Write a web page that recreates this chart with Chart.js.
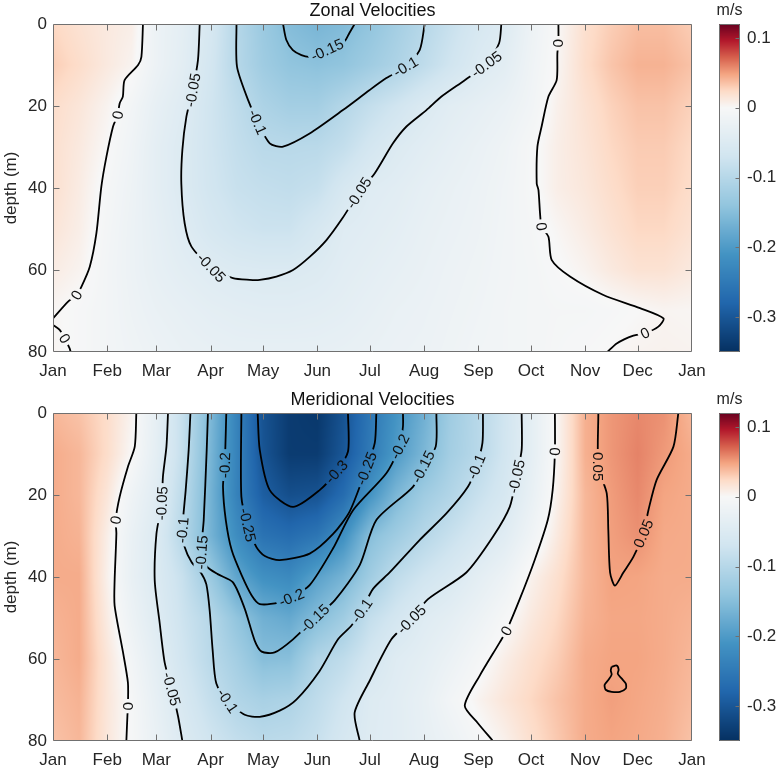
<!DOCTYPE html>
<html>
<head>
<meta charset="utf-8">
<script src="https://cdn.jsdelivr.net/npm/chart.js@4.4.1/dist/chart.umd.min.js"></script>
<style>
  body { margin: 0; background: #fff; width: 777px; height: 772px; overflow: hidden; position: relative; }
  .box { position: absolute; }
</style>
</head>
<body>
<div class="box" style="left:0;top:0"><canvas id="zonal" width="712" height="386"></canvas></div>
<div class="box" style="left:705px;top:0"><canvas id="zonalBar" width="72" height="386"></canvas></div>
<div class="box" style="left:0;top:389px"><canvas id="merid" width="712" height="386"></canvas></div>
<div class="box" style="left:705px;top:389px"><canvas id="meridBar" width="72" height="386"></canvas></div>

<script>
// ---- axes / ticks ----
const monthStarts = [0, 31, 59, 90, 120, 151, 181, 212, 243, 273, 304, 334, 365];
const monthNames = ['Jan', 'Feb', 'Mar', 'Apr', 'May', 'Jun', 'Jul', 'Aug', 'Sep', 'Oct', 'Nov', 'Dec', 'Jan'];
const depthTicks = [0, 20, 40, 60, 80];
const colorTicks = [0.1, 0, -0.1, -0.2, -0.3];
const colorMin = -0.35, colorMax = 0.12;

// ---- gridded fields (m/s), one row per grid day, values at gridDepths ----
const gridDays = [0, 15, 31, 45, 59, 74, 90, 105, 120, 135, 151, 166, 181, 196, 212, 227, 243, 258, 273, 288, 304, 319, 334, 349, 365];
const gridDepths = [0, 10, 20, 30, 40, 50, 60, 70, 80];

const zonalField = [
  [0.025, 0.03, 0.022, 0.02, 0.02, 0.016, 0.01, 0.002, 0.003],
  [0.018, 0.022, 0.015, 0.012, 0.01, 0.008, 0.004, -0.003, -0.003],
  [0.012, 0.012, 0.004, 0.0, -0.005, -0.008, -0.01, -0.01, -0.01],
  [0.008, 0.004, -0.01, -0.015, -0.018, -0.02, -0.02, -0.018, -0.015],
  [-0.02, -0.02, -0.03, -0.035, -0.035, -0.032, -0.03, -0.025, -0.02],
  [-0.035, -0.038, -0.045, -0.05, -0.05, -0.045, -0.038, -0.03, -0.025],
  [-0.06, -0.065, -0.07, -0.07, -0.068, -0.06, -0.045, -0.035, -0.028],
  [-0.1, -0.1, -0.09, -0.085, -0.08, -0.07, -0.05, -0.038, -0.03],
  [-0.13, -0.125, -0.11, -0.096, -0.085, -0.075, -0.052, -0.04, -0.03],
  [-0.152, -0.14, -0.12, -0.097, -0.088, -0.075, -0.052, -0.04, -0.03],
  [-0.162, -0.145, -0.12, -0.096, -0.082, -0.06, -0.048, -0.038, -0.03],
  [-0.155, -0.14, -0.102, -0.085, -0.06, -0.045, -0.04, -0.035, -0.028],
  [-0.14, -0.125, -0.085, -0.065, -0.045, -0.04, -0.035, -0.03, -0.025],
  [-0.12, -0.11, -0.07, -0.05, -0.04, -0.035, -0.03, -0.025, -0.022],
  [-0.1, -0.09, -0.052, -0.04, -0.032, -0.028, -0.025, -0.022, -0.02],
  [-0.08, -0.07, -0.04, -0.032, -0.026, -0.023, -0.02, -0.018, -0.016],
  [-0.06, -0.05, -0.032, -0.024, -0.02, -0.018, -0.016, -0.014, -0.012],
  [-0.048, -0.038, -0.024, -0.016, -0.013, -0.012, -0.011, -0.01, -0.01],
  [-0.02, -0.016, -0.012, -0.004, -0.004, -0.006, -0.008, -0.008, -0.008],
  [0.0, 0.002, 0.006, 0.008, 0.008, 0.002, -0.002, -0.006, -0.005],
  [0.02, 0.022, 0.018, 0.016, 0.014, 0.01, 0.004, -0.006, -0.002],
  [0.03, 0.034, 0.028, 0.025, 0.022, 0.018, 0.012, -0.003, 0.001],
  [0.037, 0.042, 0.035, 0.031, 0.029, 0.025, 0.018, 0.0, 0.004],
  [0.037, 0.042, 0.035, 0.031, 0.029, 0.025, 0.018, 0.003, 0.005],
  [0.03, 0.035, 0.028, 0.024, 0.022, 0.018, 0.012, 0.002, 0.004]
];

const meridField = [
  [0.04, 0.045, 0.045, 0.045, 0.045, 0.042, 0.04, 0.038, 0.035],
  [0.035, 0.04, 0.04, 0.042, 0.045, 0.045, 0.045, 0.042, 0.04],
  [0.022, 0.022, 0.015, 0.008, 0.006, 0.01, 0.015, 0.015, 0.014],
  [0.004, 0.0, -0.016, -0.025, -0.027, -0.02, -0.01, -0.004, -0.004],
  [-0.032, -0.035, -0.042, -0.05, -0.05, -0.045, -0.037, -0.03, -0.025],
  [-0.083, -0.083, -0.092, -0.1, -0.08, -0.074, -0.068, -0.058, -0.05],
  [-0.157, -0.162, -0.166, -0.165, -0.13, -0.1, -0.096, -0.084, -0.07],
  [-0.235, -0.235, -0.237, -0.22, -0.185, -0.14, -0.12, -0.105, -0.085],
  [-0.305, -0.303, -0.29, -0.26, -0.215, -0.17, -0.15, -0.115, -0.095],
  [-0.335, -0.335, -0.31, -0.27, -0.225, -0.18, -0.148, -0.11, -0.092],
  [-0.34, -0.335, -0.305, -0.255, -0.19, -0.152, -0.105, -0.09, -0.08],
  [-0.305, -0.3, -0.27, -0.215, -0.165, -0.125, -0.09, -0.07, -0.06],
  [-0.255, -0.25, -0.21, -0.15, -0.125, -0.085, -0.065, -0.048, -0.046],
  [-0.21, -0.2, -0.16, -0.125, -0.09, -0.065, -0.045, -0.04, -0.04],
  [-0.17, -0.16, -0.125, -0.1, -0.07, -0.045, -0.035, -0.028, -0.03],
  [-0.125, -0.12, -0.105, -0.08, -0.055, -0.035, -0.022, -0.01, -0.02],
  [-0.098, -0.098, -0.08, -0.06, -0.036, -0.02, -0.006, 0.004, -0.005],
  [-0.07, -0.068, -0.06, -0.042, -0.02, -0.004, 0.008, 0.015, 0.006],
  [-0.035, -0.035, -0.028, -0.015, 0.005, 0.012, 0.02, 0.025, 0.02],
  [0.002, 0.002, 0.006, 0.012, 0.02, 0.025, 0.03, 0.035, 0.032],
  [0.043, 0.043, 0.04, 0.04, 0.04, 0.042, 0.045, 0.045, 0.045],
  [0.053, 0.053, 0.051, 0.05, 0.049, 0.047, 0.048, 0.05, 0.048],
  [0.058, 0.06, 0.058, 0.055, 0.048, 0.047, 0.048, 0.047, 0.046],
  [0.055, 0.052, 0.048, 0.046, 0.045, 0.045, 0.045, 0.044, 0.043],
  [0.04, 0.045, 0.045, 0.045, 0.045, 0.042, 0.04, 0.038, 0.035]
];

// ---- contour lines, [day, depth] ----
const zonalZeroWest = [[51.4,0],[50.5,8.0],[48.6,10.0],[40.9,13.7],[39.9,17.7],[38.1,19.3],[36.9,22.2],[34.3,25.0],[30.5,32.4],[27.6,39.7],[24.8,51.0],[21.0,59.2],[16.2,64.1],[13.4,66.1],[8.6,67.7],[0,71.8]];
const zonalZeroCorner = [[0,73.4],[3.8,74.6],[6.7,76.7],[9.5,79.1],[10.1,80]];
const zonalM05 = [[83.8,0],[82.8,8.8],[79.8,16.1],[76.2,22.6],[73.9,30.7],[73.3,38.9],[75.2,48.6],[79.1,54.3],[90.5,59.4],[102.8,62.0],[112.4,62.4],[118.1,62.4],[127.6,61.6],[137.1,60.0],[146.6,56.8],[156.2,52.7],[165.3,47.4],[174.6,41.2],[183.8,36.4],[194.2,29.1],[201.9,25.0],[213.3,21.0],[221.9,17.7],[235.2,13.7],[247.6,9.8],[254.8,4.7],[256.1,0]];
const zonalM10 = [[104.8,0],[105.1,10.4],[111.4,18.5],[116.9,23.9],[123.8,29.1],[131.4,29.9],[146.6,26.7],[165.6,21.0],[180.9,16.1],[190.4,13.2],[201.4,10.4],[209.5,6.3],[212.3,0]];
const zonalM15 = [[131.4,0],[133.3,3.9],[137.0,6.4],[141.9,7.6],[146.5,8.0],[151.5,7.3],[156.6,6.3],[161.5,5.3],[166.6,4.2],[169.3,2.2],[172.3,0]];
const zonalZeroEast = [[288.7,0],[288.7,4.7],[288.1,7.1],[287.7,13.7],[283.0,17.7],[279.1,25.0],[276.7,29.9],[276.3,38.9],[277.3,40.5],[278.2,46.2],[279.1,49.4],[283.0,51.9],[284.9,57.6],[295.3,61.6],[314.4,66.1],[335.3,69.3],[348.7,71.8],[345.8,73.8],[338.2,75.4],[331.5,76.0],[322.0,77.9],[316.7,80]];

const meridZeroWest = [[47.6,0],[46.7,8.2],[42.8,13.1],[38.1,20.4],[35.8,26.1],[36.2,29.4],[35.2,40.8],[35.2,47.0],[40.0,58.4],[42.8,65.8],[42.8,71.5],[42.5,73.9],[41.9,80]];
const meridM05West = [[65.7,0],[64.8,8.2],[62.8,15.5],[62.1,22.0],[59.1,29.4],[58.1,40.8],[60.9,51.1],[63.8,60.9],[67.8,67.3],[71.4,73.9],[73.9,80]];
const meridM10 = [[78.5,0],[77.5,9.0],[75.8,18.8],[73.9,28.6],[75.2,32.7],[79.2,36.4],[84.4,38.9],[87.6,41.8],[89.5,48.2],[91.2,57.9],[93.3,66.0],[99.8,70.2],[109.5,73.6],[118.1,74.1],[129.5,72.6],[139.0,69.9],[152.3,62.9],[162.8,55.2],[170.4,51.9],[176.3,48.2],[182.8,42.9],[192.3,38.9],[209.4,31.0],[224.7,24.5],[237.0,18.0],[241.8,13.1],[245.3,7.3],[245.6,0]];
const meridM15 = [[88.5,0],[87.8,9.0],[86.1,26.1],[84.8,34.0],[87.8,37.4],[94.1,39.3],[102.8,41.3],[109.5,47.7],[115.2,55.5],[119.2,58.2],[126.6,58.4],[137.1,55.2],[149.5,50.1],[160.9,45.7],[175.2,37.1],[184.7,26.1],[205.6,18.0],[211.3,13.1],[218.6,8.2],[219.0,0]];
const meridM20 = [[99.0,0],[98.1,12.7],[97.1,18.0],[98.7,26.1],[102.1,33.5],[107.8,39.6],[113.5,44.5],[118.1,46.6],[129.5,46.2],[136.2,45.0],[146.6,42.0],[160.0,33.0],[171.4,23.7],[190.4,14.7],[198.0,8.2],[199.9,3.3],[199.9,0]];
const meridM25 = [[107.6,0],[107.6,20.4],[111.2,27.3],[116.2,32.7],[121.0,34.9],[129.5,35.9],[146.6,34.3],[160.0,29.5],[169.5,24.0],[179.0,13.5],[183.8,7.3],[184.7,0]];
const meridM30 = [[116.9,0],[118.1,9.0],[123.8,18.8],[137.1,22.9],[152.3,18.8],[161.9,14.3],[168.5,9.4],[168.5,0]];
const meridM05East = [[175.2,80],[172.3,73.1],[180.9,65.3],[193.3,55.2],[204.7,50.3],[214.2,45.4],[236.1,38.9],[251.3,30.2],[260.9,22.9],[264.7,15.5],[267.7,9.0],[267.7,0]];
const meridZeroEast = [[251.3,80],[242.6,75.6],[235.2,71.4],[243.7,64.1],[255.1,56.0],[259.0,53.1],[266.6,45.4],[275.1,35.9],[282.6,26.1],[285.4,18.8],[286.7,9.4],[286.7,0]];
const meridP05 = [[311.5,0],[311.5,13.1],[316.3,19.6],[317.2,28.6],[318.2,38.9],[321.0,42.1],[325.8,38.9],[331.5,35.1],[337.2,29.4],[340.1,23.7],[344.8,16.3],[354.4,8.2],[357.2,0]];
const meridP05Loop = [[319.1,61.9],[322.0,61.6],[323.1,62.6],[322.6,63.6],[324.9,64.8],[327.2,66.0],[327.2,67.2],[323.8,68.0],[319.1,68.0],[315.7,67.5],[315.1,66.3],[317.4,65.0],[319.1,63.8],[318.6,62.8],[319.1,61.9]];

// ---- contour labels, [level, day, depth] ----
const zonalLabels = [
  [0, 36.9, 22.2], [0, 13.4, 66.1], [0, 6.7, 76.7],
  [-0.05, 79.8, 16.1], [-0.05, 90.5, 59.4], [-0.05, 174.6, 41.2], [-0.05, 247.6, 9.8],
  [-0.1, 116.9, 23.9], [-0.1, 201.4, 10.4], [-0.15, 156.6, 6.3],
  [0, 288.7, 4.7], [0, 279.1, 49.4], [0, 338.2, 75.4]
];
const meridLabels = [
  [0, 35.8, 26.1], [0, 42.8, 71.5], [-0.05, 62.1, 22.0], [-0.05, 67.8, 67.3],
  [-0.1, 73.9, 28.6], [-0.1, 99.8, 70.2], [-0.1, 176.3, 48.2], [-0.1, 241.8, 13.1],
  [-0.15, 84.8, 34.0], [-0.15, 149.5, 50.1], [-0.15, 211.3, 13.1],
  [-0.2, 98.1, 12.7], [-0.2, 136.2, 45.0], [-0.2, 198.0, 8.2],
  [-0.25, 111.2, 27.3], [-0.25, 179.0, 13.5], [-0.3, 161.9, 14.3],
  [-0.05, 204.7, 50.3], [-0.05, 264.7, 15.5], [0, 259.0, 53.1], [0, 286.7, 9.4],
  [0.05, 311.5, 13.1], [0.05, 337.2, 29.4]
];

const zonalPieces = [
  {level: 0, pts: zonalZeroWest}, {level: 0, pts: zonalZeroCorner}, {level: -0.05, pts: zonalM05},
  {level: -0.1, pts: zonalM10}, {level: -0.15, pts: zonalM15}, {level: 0, pts: zonalZeroEast}
];
const meridPieces = [
  {level: 0, pts: meridZeroWest}, {level: -0.05, pts: meridM05West}, {level: -0.1, pts: meridM10},
  {level: -0.15, pts: meridM15}, {level: -0.2, pts: meridM20}, {level: -0.25, pts: meridM25},
  {level: -0.3, pts: meridM30}, {level: -0.05, pts: meridM05East}, {level: 0, pts: meridZeroEast},
  {level: 0.05, pts: meridP05}, {level: 0.05, pts: meridP05Loop}
];

// ---- styling ----
const FONT = "'Liberation Sans', Arial, Helvetica, sans-serif";
const INK = '#262626';
const FRAME = '#707070';
Chart.defaults.font.family = FONT;

// diverging red/blue map, white at 0
const redStops = ['#f7f7f7', '#fddbc7', '#f4a582', '#d6604d', '#b2182b', '#67001f'];
const blueStops = ['#f7f7f7', '#d1e5f0', '#92c5de', '#4393c3', '#2166ac', '#053061'];
function hex(h) { return [1, 3, 5].map(i => parseInt(h.substr(i, 2), 16)); }
const redRGB = redStops.map(hex), blueRGB = blueStops.map(hex);
function colorFor(v) {
  let t, st;
  if (v >= 0) { t = Math.min(v / colorMax, 1); st = redRGB; }
  else { t = Math.min(v / colorMin, 1); st = blueRGB; }
  const f = t * (st.length - 1), k = Math.min(Math.floor(f), st.length - 2), r = f - k;
  return [0, 1, 2].map(c => Math.round(st[k][c] + (st[k + 1][c] - st[k][c]) * r));
}

function fieldAt(field, day, depth) {
  let i = 0; while (i < gridDays.length - 2 && day > gridDays[i + 1]) i++;
  let j = 0; while (j < gridDepths.length - 2 && depth > gridDepths[j + 1]) j++;
  const tx = Math.max(0, Math.min(1, (day - gridDays[i]) / (gridDays[i + 1] - gridDays[i])));
  const ty = Math.max(0, Math.min(1, (depth - gridDepths[j]) / (gridDepths[j + 1] - gridDepths[j])));
  return field[i][j] * (1 - tx) * (1 - ty) + field[i + 1][j] * tx * (1 - ty)
       + field[i][j + 1] * (1 - tx) * ty + field[i + 1][j + 1] * tx * ty;
}

// angle of the contour near a label, in pixels
function lineAngle(x, y, pieces, level, px, py) {
  let best = 1e9, ang = 0;
  pieces.filter(p => p.level === level).forEach(p => {
    for (let k = 0; k < p.pts.length - 1; k++) {
      const ax = x.getPixelForValue(p.pts[k][0]), ay = y.getPixelForValue(p.pts[k][1]);
      const bx = x.getPixelForValue(p.pts[k + 1][0]), by = y.getPixelForValue(p.pts[k + 1][1]);
      const dx = bx - ax, dy = by - ay, L = dx * dx + dy * dy || 1;
      const t = Math.max(0, Math.min(1, ((px - ax) * dx + (py - ay) * dy) / L));
      const d = Math.hypot(ax + t * dx - px, ay + t * dy - py);
      if (d < best) { best = d; ang = Math.atan2(dy, dx); }
    }
  });
  if (ang > Math.PI / 2) ang -= Math.PI;
  if (ang < -Math.PI / 2) ang += Math.PI;
  return ang;
}

function panelPlugin(title, field, pieces, labels) {
  let gaps = [];
  return {
    id: 'panel',
    beforeDatasetsDraw(chart) {
      const {ctx, chartArea: a, scales: {x, y}} = chart;
      const w = Math.round(a.right - a.left), h = Math.round(a.bottom - a.top);
      const off = document.createElement('canvas');
      off.width = w; off.height = h;
      const oc = off.getContext('2d');
      const img = oc.createImageData(w, h);
      for (let j = 0; j < h; j++) {
        const depth = y.getValueForPixel(a.top + j + 0.5);
        for (let i = 0; i < w; i++) {
          const c = colorFor(fieldAt(field, x.getValueForPixel(a.left + i + 0.5), depth));
          const k = (j * w + i) * 4;
          img.data[k] = c[0]; img.data[k + 1] = c[1]; img.data[k + 2] = c[2]; img.data[k + 3] = 255;
        }
      }
      oc.putImageData(img, 0, 0);
      ctx.drawImage(off, a.left, a.top);

      // holes in the contour lines where the labels go
      ctx.font = '15px ' + FONT;
      gaps = labels.map(([lev, d, z]) => {
        const px = x.getPixelForValue(d), py = y.getPixelForValue(z);
        const text = String(lev);
        return {px, py, text, ang: lineAngle(x, y, pieces, lev, px, py), w: ctx.measureText(text).width + 6, h: 14};
      });
      ctx.save();
      ctx.beginPath();
      ctx.rect(a.left, a.top, a.right - a.left, a.bottom - a.top);
      gaps.forEach(g => {
        const c = Math.cos(g.ang), s = Math.sin(g.ang);
        [[-1, -1], [1, -1], [1, 1], [-1, 1]].forEach(([u, v], n) => {
          const qx = g.px + u * g.w / 2 * c - v * g.h / 2 * s;
          const qy = g.py + u * g.w / 2 * s + v * g.h / 2 * c;
          if (n === 0) ctx.moveTo(qx, qy); else ctx.lineTo(qx, qy);
        });
        ctx.closePath();
      });
      ctx.clip('evenodd');
    },
    afterDatasetsDraw(chart) {
      const {ctx} = chart;
      ctx.restore();
      ctx.save();
      ctx.font = '15px ' + FONT;
      ctx.fillStyle = '#111';
      ctx.textAlign = 'center';
      ctx.textBaseline = 'middle';
      gaps.forEach(g => {
        ctx.save();
        ctx.translate(g.px, g.py);
        ctx.rotate(g.ang);
        ctx.fillText(g.text, 0, 1);
        ctx.restore();
      });
      ctx.restore();
    },
    afterDraw(chart) {
      const {ctx, chartArea: a, scales: {x, y}} = chart;
      const L = Math.round(a.left) + 0.5, R = Math.round(a.right) - 0.5;
      const T = Math.round(a.top) + 0.5, B = Math.round(a.bottom) - 0.5;
      ctx.save();
      ctx.strokeStyle = FRAME;
      ctx.lineWidth = 1;
      ctx.beginPath();
      ctx.rect(L, T, R - L, B - T);
      monthStarts.slice(1, -1).forEach(v => {
        const px = Math.round(x.getPixelForValue(v)) + 0.5;
        ctx.moveTo(px, B); ctx.lineTo(px, B - 6);
        ctx.moveTo(px, T); ctx.lineTo(px, T + 6);
      });
      depthTicks.slice(1, -1).forEach(v => {
        const py = Math.round(y.getPixelForValue(v)) + 0.5;
        ctx.moveTo(L, py); ctx.lineTo(L + 6, py);
        ctx.moveTo(R, py); ctx.lineTo(R - 6, py);
      });
      ctx.stroke();
      ctx.fillStyle = '#111';
      ctx.font = '18px ' + FONT;
      ctx.textAlign = 'center';
      ctx.textBaseline = 'alphabetic';
      ctx.fillText(title, (a.left + a.right) / 2, a.top - 8);
      ctx.restore();
    }
  };
}

function makePanel(id, title, field, pieces, labels) {
  return new Chart(document.getElementById(id), {
    type: 'scatter',
    data: {
      datasets: pieces.map(p => ({
        data: p.pts.map(([d, z]) => ({x: d, y: z})),
        showLine: true,
        borderColor: '#000',
        borderWidth: 1.8,
        pointRadius: 0,
        tension: 0.25
      }))
    },
    options: {
      responsive: false,
      animation: false,
      events: [],
      layout: {padding: {top: 24, right: 20, left: 0, bottom: 0}},
      plugins: {legend: {display: false}, tooltip: {enabled: false}},
      scales: {
        x: {
          type: 'linear', min: 0, max: 365,
          afterBuildTicks: s => { s.ticks = monthStarts.map(v => ({value: v})); },
          afterFit: s => { s.height = 34; s.paddingLeft = 0; s.paddingRight = 0; },
          ticks: {
            autoSkip: false, maxRotation: 0, minRotation: 0, padding: 9,
            color: INK, font: {size: 17},
            callback: (v, i) => monthNames[i]
          },
          grid: {display: false, drawTicks: false},
          border: {display: false}
        },
        y: {
          type: 'linear', reverse: true, min: 0, max: 80,
          afterBuildTicks: s => { s.ticks = depthTicks.map(v => ({value: v})); },
          afterFit: s => { s.width = 53; s.paddingTop = 0; s.paddingBottom = 0; },
          ticks: {padding: 6, color: INK, font: {size: 17}},
          title: {display: true, text: 'depth (m)', color: INK, font: {size: 17}, padding: {top: 1, bottom: 0}},
          grid: {display: false, drawTicks: false},
          border: {display: false}
        }
      }
    },
    plugins: [panelPlugin(title, field, pieces, labels)]
  });
}

const barPlugin = {
  id: 'bar',
  afterDraw(chart) {
    const {ctx, chartArea: a, scales: {y}} = chart;
    const L = Math.round(a.left), R = Math.round(a.right);
    const T = Math.round(a.top), B = Math.round(a.bottom);
    for (let py = T; py < B; py++) {
      const c = colorFor(y.getValueForPixel(py + 0.5));
      ctx.fillStyle = 'rgb(' + c.join(',') + ')';
      ctx.fillRect(L, py, R - L, 1);
    }
    ctx.save();
    ctx.strokeStyle = FRAME;
    ctx.lineWidth = 1;
    ctx.beginPath();
    ctx.rect(L + 0.5, T + 0.5, R - L - 1, B - T - 1);
    colorTicks.forEach(v => {
      const py = Math.round(y.getPixelForValue(v)) + 0.5;
      ctx.moveTo(R - 0.5, py); ctx.lineTo(R - 4.5, py);
    });
    ctx.stroke();
    ctx.fillStyle = INK;
    ctx.font = '16px ' + FONT;
    ctx.textAlign = 'center';
    ctx.fillText('m/s', (a.left + a.right) / 2, a.top - 9);
    ctx.restore();
  }
};

function makeBar(id) {
  return new Chart(document.getElementById(id), {
    type: 'scatter',
    data: {datasets: []},
    options: {
      responsive: false,
      animation: false,
      events: [],
      layout: {padding: {top: 24, right: 0, left: 14, bottom: 34}},
      plugins: {legend: {display: false}, tooltip: {enabled: false}},
      scales: {
        x: {display: false, min: 0, max: 1},
        y: {
          position: 'right', min: colorMin, max: colorMax,
          afterBuildTicks: s => { s.ticks = colorTicks.map(v => ({value: v})); },
          afterFit: s => { s.width = 37; },
          ticks: {padding: 7, color: INK, font: {size: 17}, callback: v => String(v)},
          grid: {display: false, drawTicks: false},
          border: {display: false}
        }
      }
    },
    plugins: [barPlugin]
  });
}

makePanel('zonal', 'Zonal Velocities', zonalField, zonalPieces, zonalLabels);
makePanel('merid', 'Meridional Velocities', meridField, meridPieces, meridLabels);
makeBar('zonalBar');
makeBar('meridBar');
</script>
</body>
</html>
